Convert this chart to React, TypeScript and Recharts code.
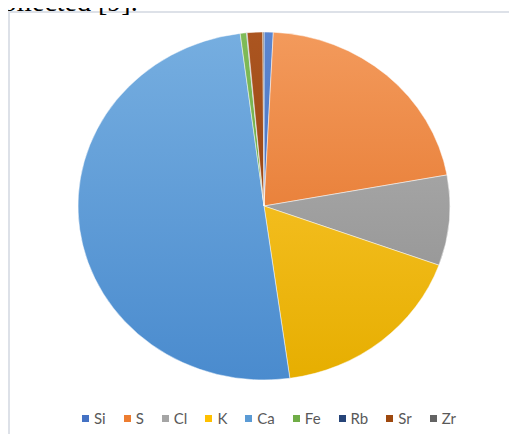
import { PieChart, Pie, Cell, Legend } from "recharts";

const elements = ["Si", "S", "Cl", "K", "Ca", "Fe", "Rb", "Sr", "Zr"];
const shares = [0.8, 21.4, 8.4, 17.3, 50.3, 0.55, 0.05, 1.35, 0.1];
// light (top) and dark (bottom) shade of each slice
const topColors = ["#5b86d0", "#f39a5c", "#b4b4b4", "#ffcb3a", "#76aee0", "#7fbb58", "#2e4f88", "#ab5520", "#707070"];
const bottomColors = ["#3a66b8", "#e06a1c", "#8c8c8c", "#e6ae00", "#4a8bce", "#62a03c", "#1f3a6a", "#8c3c08", "#555555"];
const legendColors = ["#4472c4", "#ed7d31", "#a5a5a5", "#ffc000", "#5b9bd5", "#70ad47", "#264478", "#9e480e", "#636363"];

const chartData = elements.map((name, i) => ({ name, value: shares[i] }));

const CX = 254;
const CY = 193;
const R = 186;

function LegendRow() {
  return (
    <div
      style={{
        display: "flex",
        justifyContent: "center",
        fontFamily: "Lato, 'Open Sans', sans-serif",
        fontSize: 15,
        color: "#595959",
      }}
    >
      {elements.map((name, i) => (
        <span key={name} style={{ display: "inline-flex", alignItems: "center", margin: "0 9px" }}>
          <span
            style={{
              display: "inline-block",
              width: 7,
              height: 7,
              background: legendColors[i],
              marginRight: 5,
            }}
          />
          {name}
        </span>
      ))}
    </div>
  );
}

export default function App() {
  return (
    <div
      style={{
        position: "relative",
        width: 517,
        height: 442,
        margin: -8,
        overflow: "hidden",
        background: "#fff",
      }}
    >
      <style>{`.recharts-pie { transform-origin: ${CX}px ${CY}px; transform: scale(1, 0.9355); }`}</style>
      <div
        style={{
          position: "absolute",
          left: -10,
          top: -12,
          fontFamily: "'Liberation Serif', 'Times New Roman', serif",
          fontSize: 28,
          lineHeight: "28px",
          color: "#000",
          whiteSpace: "nowrap",
          zIndex: 2,
        }}
      >
        collected [9].
      </div>
      <div
        style={{
          position: "absolute",
          left: 8,
          top: 11,
          width: 520,
          height: 440,
          border: "2px solid #dde1e8",
          boxSizing: "border-box",
        }}
      >
        <PieChart width={510} height={430} margin={{ top: 0, right: 0, bottom: 0, left: 0 }}>
          <defs>
            {elements.map((name, i) => (
              <linearGradient
                key={name}
                id={`grad-${name}`}
                gradientUnits="userSpaceOnUse"
                x1={0}
                y1={CY - R}
                x2={0}
                y2={CY + R}
              >
                <stop offset="0%" stopColor={topColors[i]} />
                <stop offset="100%" stopColor={bottomColors[i]} />
              </linearGradient>
            ))}
          </defs>
          <Pie
            data={chartData}
            dataKey="value"
            nameKey="name"
            cx={CX}
            cy={CY}
            outerRadius={R}
            startAngle={90}
            endAngle={-270}
            stroke="#ffffff"
            strokeWidth={0.5}
            isAnimationActive={false}
          >
            {chartData.map((entry) => (
              <Cell key={entry.name} fill={`url(#grad-${entry.name})`} />
            ))}
          </Pie>
          <Legend
            content={<LegendRow />}
            wrapperStyle={{ position: "absolute", top: 396, left: 4, width: 510 }}
          />
        </PieChart>
      </div>
    </div>
  );
}
